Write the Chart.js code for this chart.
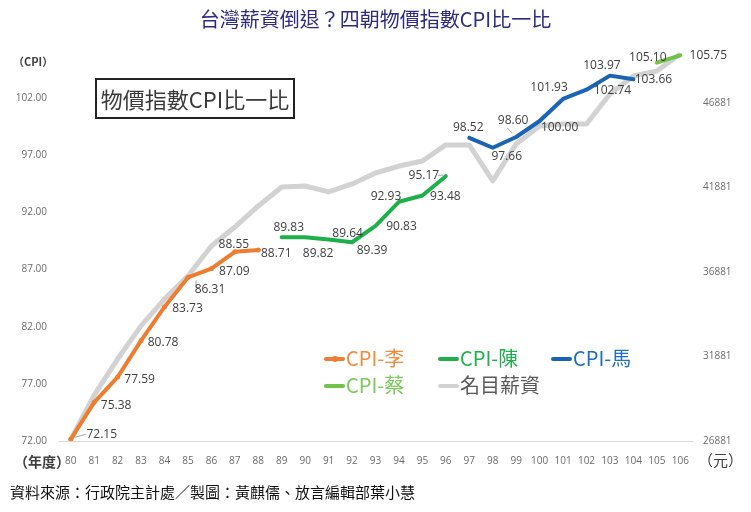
<!DOCTYPE html>
<html>
<head>
<meta charset="utf-8">
<script src="https://cdn.jsdelivr.net/npm/chart.js@4.4.1/dist/chart.umd.min.js"></script>
<style>
  html,body{margin:0;padding:0;background:#fff;}
  #wrap{position:relative;width:751px;height:512px;overflow:hidden;font-family:"Noto Sans CJK TC","Noto Sans",sans-serif;}
  #wrap canvas{position:absolute;left:0;top:0;}
  .t{position:absolute;white-space:nowrap;line-height:1;}
  #title{left:0;width:751px;top:9px;text-align:center;font-size:20px;color:#2e2b80;}
  #box{left:95px;top:78px;width:196px;height:37px;border:2px solid #222;font-size:22px;color:#3a3a3a;text-align:center;line-height:37px;}
  #cpiunit{left:13px;top:56px;font-size:11px;font-weight:bold;color:#404040;}
  #yearunit{left:14px;top:454px;font-size:14px;font-weight:bold;color:#404040;}
  #yuan{left:698px;top:452px;font-size:15px;color:#404040;}
  #src{left:10px;top:484px;font-size:15px;color:#111;}
  .lg{position:absolute;font-size:20px;line-height:1;white-space:nowrap;}
  .mk{position:absolute;height:4px;width:21px;border-radius:2px;}
</style>
</head>
<body>
<div id="wrap">
  <canvas id="c" width="751" height="512"></canvas>
  <div class="t" id="title">台灣薪資倒退？四朝物價指數CPI比一比</div>
  <div class="t" id="box">物價指數CPI比一比</div>
  <div class="t" id="cpiunit">（CPI）</div>
  <div class="t" id="yearunit">（年度）</div>
  <div class="t" id="yuan">（元）</div>
  <div class="t" id="src">資料來源：行政院主計處／製圖：黃麒儒、放言編輯部葉小慧</div>
  <div id="legend"></div>
</div>
<script>
// ---- data ----
const years = ['80','81','82','83','84','85','86','87','88','89','90','91','92','93','94','95','96','97','98','99','100','101','102','103','104','105','106'];
const cpiLee  = [72.15,75.38,77.59,80.78,83.73,86.31,87.09,88.55,88.71];          // 80-88
const cpiChen = [89.83,89.82,89.64,89.39,90.83,92.93,93.48,95.17];                // 89-96
const cpiMa   = [98.52,97.66,98.60,100.00,101.93,102.74,103.97,103.66];           // 97-104
const cpiTsai = [105.10,105.75];                                                  // 105-106
const wages   = [26940,29600,31730,33690,35280,36640,38420,39540,40790,41910,41970,41620,42090,42740,43150,43450,44400,44400,42270,44460,45520,45640,45640,47410,48480,48770,49780];
const leftTicks  = [72,77,82,87,92,97,102];
const rightTicks = [26881,31881,36881,41881,46881];
const seriesNames = ['CPI-李','CPI-陳','CPI-馬','CPI-蔡','名目薪資'];

// ---- layout / style (kept separate from data) ----
const startIdx = {lee:0, chen:9, ma:17, tsai:25};
const labelOffsets = {
  lee:  [[31,-5],[22,3],[22,2],[22,2],[23,2],[22,12],[23,3],[-1,-7],[18,4]],
  chen: [[7,-10],[13,16],[19,-6],[20,8],[26,1],[-13,-5],[23,1],[-22,-1]],
  ma:   [[-1,-10],[14,9],[-3,-16],[20,7],[-14,-11],[26,1],[-8,-10],[20,0]],
  tsai: [[-9,-5],[28,0]]
};
// leader lines: polyline offsets relative to the point, keyed by point order in series
const leaders = {
  lee:  {0: [[4,-2],[15,-5]], 5: [[8,3],[8,10],[11,10]]},
  chen: {7: [[-8,-1],[-3,-1]]},
  ma:   {2: [[-9,-9],[-4,-4]]}
};
const colors = {lee:'#ED7D31', chen:'#1DB04B', ma:'#1B63B5', tsai:'#72C24C', wage:'#D2D2D2'};
const textColors = ['#F08A3C','#1DB04B','#1F6FBF','#7CC85A','#595959'];

function place(arr, start){
  const out = years.map(()=>null);
  arr.forEach((v,i)=>{ out[start+i]=v; });
  return out;
}

const keys = ['lee','chen','ma','tsai'];
const srcs = {lee:cpiLee, chen:cpiChen, ma:cpiMa, tsai:cpiTsai};

const datasets = keys.map((k,i)=>({
  label: seriesNames[i],
  key: k,
  data: place(srcs[k], startIdx[k]),
  borderColor: colors[k],
  backgroundColor: colors[k],
  borderWidth: 4,
  pointRadius: k==='lee' ? 2.5 : 0,
  pointBorderWidth: 0,
  tension: 0,
  spanGaps: false,
  yAxisID: 'y',
  order: 1,
  borderCapStyle: 'round',
  borderJoinStyle: 'round'
}));
datasets.push({
  label: seriesNames[4],
  key: 'wage',
  data: wages,
  borderColor: colors.wage,
  backgroundColor: colors.wage,
  borderWidth: 5,
  pointRadius: 0,
  tension: 0,
  yAxisID: 'y2',
  order: 10,
  borderJoinStyle: 'round'
});

const labelPlugin = {
  id: 'dlabels',
  afterDatasetsDraw(chart){
    const ctx = chart.ctx;
    ctx.save();
    ctx.font = '12px "Open Sans", "DejaVu Sans", sans-serif';
    ctx.textAlign = 'center';
    ctx.textBaseline = 'middle';
    chart.data.datasets.forEach((ds, di)=>{
      if (ds.key === 'wage') return;
      const meta = chart.getDatasetMeta(di);
      const offs = labelOffsets[ds.key];
      const lds = leaders[ds.key] || {};
      let j = 0;
      ds.data.forEach((v, i)=>{
        if (v === null) return;
        const el = meta.data[i];
        const o = offs[j] || [0,-10];
        const ld = lds[j];
        if (ld){
          ctx.strokeStyle = '#a6a6a6';
          ctx.lineWidth = 1;
          ctx.beginPath();
          ld.forEach((p,k)=>{ if(k===0) ctx.moveTo(el.x+p[0], el.y+p[1]); else ctx.lineTo(el.x+p[0], el.y+p[1]); });
          ctx.stroke();
        }
        ctx.fillStyle = '#404040';
        ctx.fillText(v.toFixed(2), el.x + o[0], el.y + o[1]);
        j++;
      });
    });
    ctx.restore();
  }
};

new Chart(document.getElementById('c'), {
  type: 'line',
  data: { labels: years, datasets },
  plugins: [labelPlugin],
  options: {
    responsive: false,
    animation: false,
    devicePixelRatio: 1,
    layout: { padding: { top: 41, left: 0, right: 0, bottom: 0 } },
    plugins: { legend: { display: false }, tooltip: { enabled: false }, title: { display: false } },
    scales: {
      x: {
        offset: true,
        grid: { display: false, drawTicks: false },
        border: { display: true, color: '#D9D9D9', width: 1 },
        ticks: { color: '#6b6b6b', font: { size: 10, family: '"Open Sans", sans-serif' }, padding: 14, maxRotation: 0, autoSkip: false },
        afterFit(s){ s.height = 71; }
      },
      y: {
        position: 'left',
        min: 72, max: 107,
        grid: { display: false, drawTicks: false },
        border: { display: false },
        afterBuildTicks(s){ s.ticks = leftTicks.map(v=>({value:v})); },
        ticks: { color: '#6b6b6b', font: { size: 10, family: '"Open Sans", sans-serif' }, padding: 12,
                 callback: v => Number(v).toFixed(2) },
        afterFit(s){ s.width = 59; }
      },
      y2: {
        position: 'right',
        min: 26881, max: 50550,
        grid: { display: false, drawTicks: false },
        border: { display: false },
        afterBuildTicks(s){ s.ticks = rightTicks.map(v=>({value:v})); },
        ticks: { color: '#6b6b6b', font: { size: 10, family: '"Open Sans", sans-serif' }, padding: 11,
                 callback: v => String(v) },
        afterFit(s){ s.width = 59; }
      }
    }
  }
});

// ---- legend (HTML) ----
const legendPos = [[324,348],[438,348],[551,348],[324,375],[438,375]];
const markerColors = [colors.lee, colors.chen, colors.ma, colors.tsai, colors.wage];
const lg = document.getElementById('legend');
seriesNames.forEach((name,i)=>{
  const [x,y] = legendPos[i];
  const m = document.createElement('div');
  m.className = 'mk';
  m.style.left = x+'px'; m.style.top = (y+9)+'px'; m.style.background = markerColors[i];
  lg.appendChild(m);
  if (i===0){
    const d = document.createElement('div');
    d.className='mk'; d.style.width='6px'; d.style.height='6px'; d.style.borderRadius='3px';
    d.style.left=(x+8)+'px'; d.style.top=(y+8)+'px'; d.style.background=markerColors[0];
    lg.appendChild(d);
  }
  const t = document.createElement('div');
  t.className = 'lg';
  t.textContent = name;
  t.style.left = (x+22)+'px'; t.style.top = y+'px'; t.style.color = textColors[i];
  lg.appendChild(t);
});
</script>
</body>
</html>
